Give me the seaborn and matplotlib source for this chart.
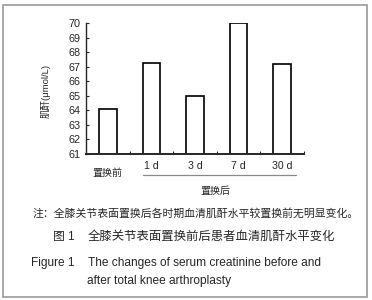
import matplotlib
matplotlib.use("Agg")
import matplotlib.pyplot as plt
import seaborn as sns
from matplotlib.patches import Rectangle

# data
groups = ["置换前", "1 d", "3 d", "7 d", "30 d"]
creatinine = [64.1, 67.3, 65.0, 70.0, 67.2]
yticks = list(range(61, 71))

sns.set_style("white")
plt.rcParams['font.family'] = ['Liberation Sans', 'Noto Sans CJK SC']
plt.rcParams['axes.unicode_minus'] = False

W, H = 372, 300
fig = plt.figure(figsize=(W / 100, H / 100), dpi=100)
fig.patch.set_facecolor("white")

# frame around the whole figure
fig.patches.append(Rectangle((2.5 / W, 3.5 / H), 364 / W, 292 / H, transform=fig.transFigure,
                             fill=False, edgecolor="#9a9a9a", lw=1.2))

ax = fig.add_axes([86 / W, 1 - 154 / H, 218 / W, (154 - 23.3) / H])
sns.barplot(x=groups, y=creatinine, color="white", edgecolor="black",
            linewidth=1.2, width=0.4, saturation=1, ax=ax)
ax.set_ylim(61, 70)
ax.set_xlim(-0.5, 4.5)
ax.set_yticks(yticks)
ax.tick_params(axis="y", labelsize=7.8, length=2.5, width=0.8, direction="in", pad=4, left=True)
ax.set_xticks([0.5, 1.5, 2.5, 3.5, 4.5])
ax.set_xticklabels([])
ax.tick_params(axis="x", length=2.5, width=0.8, direction="in", bottom=True)
sns.despine(ax=ax)
ax.spines["left"].set_linewidth(1.0)
ax.spines["bottom"].set_linewidth(1.4)
ax.set_xlabel("")
ax.set_ylabel("肌酐(μmol/L)", fontsize=6.8)
ax.yaxis.set_label_coords(-0.16, 0.48)

tr = ax.get_xaxis_transform()
ax.text(0, -0.145, groups[0], transform=tr, ha="center", va="center", fontsize=7.2, clip_on=False)
for i in range(1, 5):
    ax.text(i, -0.092, groups[i], transform=tr, ha="center", va="center", fontsize=7.6, clip_on=False)
ax.plot([0.81, 4.32], [-0.161, -0.161], transform=tr, color="#888888", lw=0.9, clip_on=False)
ax.text(2.46, -0.283, "置换后", transform=tr, ha="center", va="center", fontsize=7.2, clip_on=False)

fig.text(33 / W, 1 - 213 / H, "注：全膝关节表面置换后各时期血清肌酐水平较置换前无明显变化。",
         ha="left", va="center", fontsize=7.8)
fig.text(53 / W, 1 - 237 / H, "图 1", ha="left", va="center", fontsize=8.5)
fig.text(88 / W, 1 - 237 / H, "全膝关节表面置换前后患者血清肌酐水平变化",
         ha="left", va="center", fontsize=8.9)
fig.text(31 / W, 1 - 263 / H, "Figure 1", ha="left", va="center", fontsize=8.6)
fig.text(88 / W, 1 - 263 / H, "The changes of serum creatinine before and",
         ha="left", va="center", fontsize=8.6)
fig.text(87 / W, 1 - 281 / H, "after total knee arthroplasty",
         ha="left", va="center", fontsize=8.6)

fig.savefig("out.png", dpi=100)
